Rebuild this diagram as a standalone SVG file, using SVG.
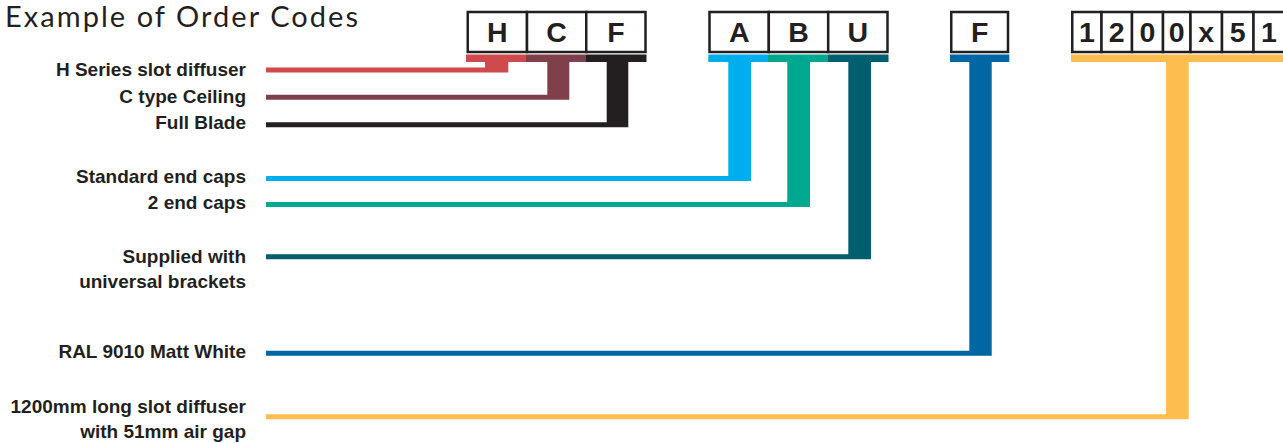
<svg xmlns="http://www.w3.org/2000/svg" width="1283" height="443" viewBox="0 0 1283 443">
<style>
.lbl{font-family:"Liberation Sans",Arial,sans-serif;font-weight:bold;font-size:19px;fill:#231f20;text-anchor:end}
.code{font-family:"Liberation Sans",Arial,sans-serif;font-weight:bold;font-size:28.5px;fill:#231f20;text-anchor:middle}
.box{fill:#fff;stroke:#231f20;stroke-width:2.5}
.title{font-family:Lato,"Liberation Sans",sans-serif;font-size:29px;fill:#231f20}
</style>
<rect width="1283" height="443" fill="#fff"/>
<text class="title" x="5" y="27" textLength="353" lengthAdjust="spacing">Example of Order Codes</text>

<g id="connectors">
  <path id="c-H" fill="#cf4a4c" d="M466,54.5H526V62H508.3V72.5H266V67.5H485V62H466Z"/>
  <path id="c-C" fill="#80404b" d="M526,54.5H586V62H569.3V99.7H266V94.7H547.3V62H526Z"/>
  <path id="c-F1" fill="#231f20" d="M586,54.5H646.5V62H628.3V127.3H266V122.3H606.7V62H586Z"/>
  <path id="c-A" fill="#00aeef" d="M708.3,54.5H768V62H751V181H266V176H728.3V62H708.3Z"/>
  <path id="c-B" fill="#00a88f" d="M768,54.5H828V62H810V207H266V202H787.3V62H768Z"/>
  <path id="c-U" fill="#005f6f" d="M828,54.5H888.5V62H871V259.3H266V254.3H848.3V62H828Z"/>
  <path id="c-F2" fill="#0066a4" d="M950,54.5H1009.3V62H991.7V355.8H266V350.8H969.3V62H950Z"/>
  <path id="c-N" fill="#fdbd4f" d="M1071,54.5H1283V62H1188.7V419.3H266V414.3H1166V62H1071Z"/>
</g>

<g id="node-HCF">
  <rect class="box" x="467.75" y="12" width="59.25" height="40"/>
  <rect class="box" x="527" y="12" width="59.25" height="40"/>
  <rect class="box" x="586.25" y="12" width="59.25" height="40"/>
  <text class="code" x="497.4" y="42.3">H</text>
  <text class="code" x="556.6" y="42.3">C</text>
  <text class="code" x="615.9" y="42.3">F</text>
</g>
<g id="node-ABU">
  <rect class="box" x="709.5" y="12" width="59.3" height="40"/>
  <rect class="box" x="768.8" y="12" width="59.4" height="40"/>
  <rect class="box" x="828.2" y="12" width="59.3" height="40"/>
  <text class="code" x="739.2" y="42.3">A</text>
  <text class="code" x="798.5" y="42.3">B</text>
  <text class="code" x="857.9" y="42.3">U</text>
</g>
<g id="node-F">
  <rect class="box" x="951.25" y="12" width="56.75" height="40"/>
  <text class="code" x="979.6" y="42.3">F</text>
</g>
<g id="node-size">
  <rect class="box" x="1072.25" y="12" width="29.25" height="40"/>
  <rect class="box" x="1101.5" y="12" width="30.5" height="40"/>
  <rect class="box" x="1132" y="12" width="31" height="40"/>
  <rect class="box" x="1163" y="12" width="27.5" height="40"/>
  <rect class="box" x="1190.5" y="12" width="31.5" height="40"/>
  <rect class="box" x="1222" y="12" width="31.5" height="40"/>
  <rect class="box" x="1253.5" y="12" width="31" height="40"/>
  <text class="code" x="1086.9" y="42.3">1</text>
  <text class="code" x="1116.8" y="42.3">2</text>
  <text class="code" x="1147.5" y="42.3">0</text>
  <text class="code" x="1176.8" y="42.3">0</text>
  <text class="code" x="1206.3" y="42.3">x</text>
  <text class="code" x="1237.8" y="42.3">5</text>
  <text class="code" x="1269" y="42.3">1</text>
</g>

<g id="labels">
  <text class="lbl" x="246" y="76">H Series slot diffuser</text>
  <text class="lbl" x="246" y="102.5">C type Ceiling</text>
  <text class="lbl" x="246" y="128.5">Full Blade</text>
  <text class="lbl" x="246" y="182.7">Standard end caps</text>
  <text class="lbl" x="246" y="209.3">2 end caps</text>
  <text class="lbl" x="246" y="262.7">Supplied with</text>
  <text class="lbl" x="246" y="288.3">universal brackets</text>
  <text class="lbl" x="246" y="358.3">RAL 9010 Matt White</text>
  <text class="lbl" x="246" y="412.7">1200mm long slot diffuser</text>
  <text class="lbl" x="246" y="437.7">with 51mm air gap</text>
</g>
</svg>
